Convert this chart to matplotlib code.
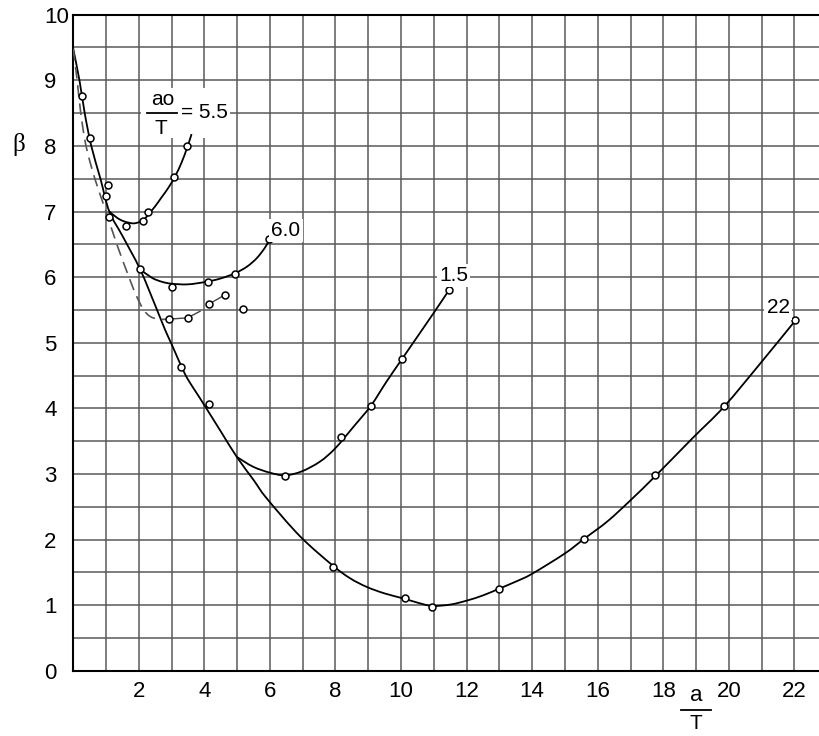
import numpy as np
import matplotlib
matplotlib.use('Agg')
import matplotlib.pyplot as plt
from matplotlib.ticker import MultipleLocator
from matplotlib.patches import Rectangle, PathPatch
from matplotlib.path import Path

plt.rcParams['font.family'] = ['Liberation Sans', 'DejaVu Sans']

# огибающая (сплошная линия)
env_x = [0.0, 0.19, 0.35, 0.55, 0.83, 1.1, 1.5, 2.04, 2.5, 2.8, 3.0, 3.29, 3.5, 3.86,
         4.5, 4.99, 5.5, 5.9, 6.92, 7.93, 8.45, 8.95, 9.5, 10.1, 10.5, 10.95,
         11.5, 12.0, 12.5, 12.98, 13.5, 14.0, 15.0, 15.58, 16.3, 17.0, 17.76, 18.9,
         19.86, 21.0, 22.03]
env_y = [9.48, 9.0, 8.5, 8.0, 7.5, 7.0, 6.63, 6.12, 5.57, 5.2, 4.98, 4.65, 4.44, 4.16,
         3.65, 3.26, 2.91, 2.63, 2.05, 1.6, 1.41, 1.28, 1.18, 1.10, 1.04, 0.99,
         1.01, 1.07, 1.15, 1.25, 1.36, 1.48, 1.79, 2.01, 2.28, 2.6, 2.97, 3.55,
         4.03, 4.71, 5.34]

# пунктирная кривая
dash_x = [0.0, 0.12, 0.23, 0.39, 0.66, 1.0, 1.33, 1.7, 1.94, 2.15, 2.35, 2.6, 2.93]
dash_y = [9.48, 9.0, 8.5, 8.0, 7.5, 7.0, 6.5, 6.0, 5.7, 5.5, 5.4, 5.36, 5.36]

# ao/T = 5.5
c55_x = [1.1, 1.35, 1.55, 1.8, 1.96, 2.14, 2.3, 2.5, 2.7, 2.9, 3.1, 3.3, 3.48, 3.61]
c55_y = [7.0, 6.9, 6.85, 6.82, 6.83, 6.87, 6.96, 7.08, 7.22, 7.36, 7.53, 7.74, 7.98, 8.18]

# 6.0
c60_x = [2.04, 2.4, 2.7, 3.0, 3.5, 4.07, 4.5, 4.94, 5.3, 5.6, 5.85, 6.0]
c60_y = [6.12, 5.99, 5.93, 5.9, 5.89, 5.93, 5.98, 6.06, 6.16, 6.29, 6.45, 6.58]

# 1.5
c15_x = [4.99, 5.49, 6.0, 6.46, 6.97, 7.53, 7.99, 8.55, 9.08, 9.56, 10.04, 10.99, 11.46]
c15_y = [3.26, 3.11, 3.02, 2.98, 3.04, 3.19, 3.39, 3.72, 4.04, 4.41, 4.76, 5.45, 5.80]

# отрезки между отдельными точками
seg_x = [[2.93, 3.49], [3.49, 3.87], [4.14, 4.63]]
seg_y = [[5.36, 5.38], [5.38, 5.48], [5.59, 5.73]]

# экспериментальные точки
pts_x = [0.26, 0.51, 1.07, 1.00, 1.09, 1.61, 2.12, 2.27, 3.08, 3.48,
         2.04, 3.00, 4.10, 4.94, 5.98,
         2.93, 3.49, 4.14, 4.63, 5.19,
         3.29, 4.15, 6.46, 8.17, 9.08, 10.04, 11.46,
         7.93, 10.12, 10.95, 12.98, 15.58, 17.76, 19.86, 22.03]
pts_y = [8.76, 8.12, 7.40, 7.23, 6.92, 6.78, 6.86, 6.99, 7.52, 8.00,
         6.12, 5.85, 5.93, 6.05, 6.58,
         5.36, 5.38, 5.59, 5.73, 5.52,
         4.63, 4.06, 2.97, 3.56, 4.04, 4.76, 5.80,
         1.58, 1.11, 0.98, 1.24, 2.01, 2.99, 4.03, 5.34]


def smooth_path(xs, ys):
    # гладкая кривая через узлы (кубические сплайны Безье, как у Catmull-Rom)
    p = np.column_stack([xs, ys])
    n = len(p)
    verts = [p[0]]
    codes = [Path.MOVETO]
    for i in range(n - 1):
        p0 = p[i - 1] if i > 0 else p[i]
        p1 = p[i]
        p2 = p[i + 1]
        p3 = p[i + 2] if i + 2 < n else p[i + 1]
        verts += [p1 + (p2 - p0) / 6, p2 - (p3 - p1) / 6, p2]
        codes += [Path.CURVE4] * 3
    return Path(verts, codes)


fig = plt.figure(figsize=(8.2, 7.36), dpi=100)
ax = fig.add_axes([0.0893, 0.0885, 0.9107, 0.8916])
ax.set_xlim(0, 22.78)
ax.set_ylim(0, 10)

ax.set_xticks(range(2, 23, 2))
ax.xaxis.set_minor_locator(MultipleLocator(1))
ax.set_yticks(range(0, 11))
ax.yaxis.set_minor_locator(MultipleLocator(0.5))
ax.grid(which='both', color='#5a5a5a', lw=1.1, zorder=0)
ax.set_axisbelow(True)
ax.tick_params(which='both', length=0, labelsize=16)
ax.tick_params(axis='x', pad=7)
ax.tick_params(axis='y', pad=21)
for lab in ax.get_yticklabels():
    lab.set_horizontalalignment('left')

ax.spines['right'].set_visible(False)
for s in ['left', 'bottom', 'top']:
    ax.spines[s].set_linewidth(1.5)
    ax.spines[s].set_color('black')

for cx, cy in [(env_x, env_y), (c55_x, c55_y), (c60_x, c60_y), (c15_x, c15_y)]:
    ax.add_patch(PathPatch(smooth_path(cx, cy), facecolor='none', edgecolor='black',
                           lw=1.3, zorder=3))
ax.add_patch(PathPatch(smooth_path(dash_x, dash_y), facecolor='none', edgecolor='#555555',
                       lw=1.2, linestyle=(0, (7, 4)), zorder=3))
for sx, sy in zip(seg_x, seg_y):
    ax.plot(sx, sy, color='#444444', lw=1.0, zorder=3)

ax.plot(pts_x, pts_y, 'o', ms=5, mfc='white', mec='black', mew=1.1, zorder=4)

# подпись ao/T = 5.5 на белом фоне
ax.add_patch(Rectangle((2.07, 8.12), 2.71, 0.76, facecolor='white', edgecolor='none', zorder=2))
ax.text(2.74, 8.70, 'ao', fontsize=15, ha='center', va='center', zorder=5)
ax.plot([2.24, 3.16], [8.5, 8.5], color='black', lw=1.3, zorder=5)
ax.text(2.68, 8.27, 'T', fontsize=15, ha='center', va='center', zorder=5)
ax.text(3.28, 8.51, '= 5.5', fontsize=15, ha='left', va='center', zorder=5)

box = dict(facecolor='white', edgecolor='none', pad=1.5)
ax.text(6.49, 6.71, '6.0', fontsize=15, ha='center', va='center', bbox=box, zorder=5)
ax.text(11.61, 6.03, '1.5', fontsize=15, ha='center', va='center', bbox=box, zorder=5)
ax.text(21.5, 5.53, '22', fontsize=15, ha='center', va='center', bbox=box, zorder=5)

# подпись оси x: a/T
ax.text(18.99, -0.38, 'a', fontsize=16, ha='center', va='center', clip_on=False)
ax.plot([18.54, 19.45], [-0.59, -0.59], color='black', lw=1.3, clip_on=False)
ax.text(18.99, -0.80, 'T', fontsize=15, ha='center', va='center', clip_on=False)

fig.text(18.5 / 820, 1 - 144 / 736, 'β', fontsize=18, family='Liberation Serif',
         ha='center', va='center')

fig.savefig('out.png', dpi=100)
